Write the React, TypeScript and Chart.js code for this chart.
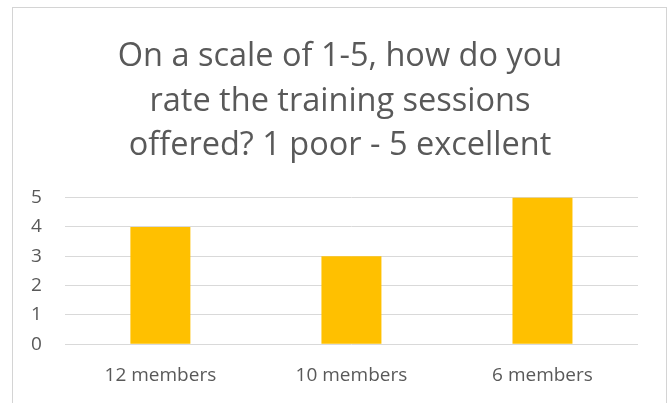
import React, { useEffect, useRef } from "react";
import { Chart, registerables } from "chart.js";

Chart.register(...registerables);

const categories = ["12 members", "10 members", "6 members"];
const ratings = [4, 3, 5];
const yTicks = [0, 1, 2, 3, 4, 5];
const titleLines = ["On a scale of 1-5, how do you", "rate the training sessions", "offered? 1 poor - 5 excellent"];

export default function App() {
  const ref = useRef<HTMLCanvasElement | null>(null);
  useEffect(() => {
    if (!ref.current) return;
    const chart = new Chart(ref.current, {
      type: "bar",
      data: {
        labels: categories,
        datasets: [
          {
            data: ratings,
            backgroundColor: "#FFC000",
            borderWidth: 0,
            categoryPercentage: 1,
            barPercentage: 0.314,
          },
        ],
      },
      options: {
        animation: false,
        responsive: false,
        layout: { padding: { left: 31, right: 21, top: 34, bottom: 4 } },
        plugins: {
          legend: { display: false },
          tooltip: { enabled: false },
          title: {
            display: true,
            text: titleLines,
            color: "#595959",
            font: { family: "'Open Sans'", size: 32.5, weight: "normal", lineHeight: 1.38 },
            padding: { top: 0, bottom: 29 },
          },
        },
        scales: {
          x: {
            grid: { display: false },
            border: { display: false },
            ticks: { color: "#595959", font: { family: "'Open Sans'", size: 19 }, padding: 12 },
          },
          y: {
            min: 0,
            max: 5,
            afterBuildTicks: (axis: any) => {
              axis.ticks = yTicks.map((v) => ({ value: v }));
            },
            grid: { color: "#d9d9d9", lineWidth: 1, drawTicks: false },
            border: { display: false },
            ticks: {
              color: "#595959",
              font: { family: "'Open Sans'", size: 19 },
              padding: 11.5,
              crossAlign: "far",
            },
          },
          yRight: {
            position: "right",
            min: 0,
            max: 5,
            grid: { display: false, drawTicks: false },
            border: { display: false },
            ticks: { display: false },
            afterFit: (axis: any) => {
              axis.width = 11;
            },
          },
        },
      },
    });
    return () => chart.destroy();
  }, []);
  return (
    <div style={{ position: "fixed", left: 0, top: 0, width: 670, height: 403, background: "#fff" }}>
      <div
        style={{
          position: "absolute",
          left: 12,
          top: 7,
          width: 655,
          height: 420,
          border: "1px solid #d4d4d4",
          boxSizing: "border-box",
        }}
      />
      <canvas ref={ref} width={670} height={403} style={{ position: "absolute", left: 0, top: 0 }} />
    </div>
  );
}
